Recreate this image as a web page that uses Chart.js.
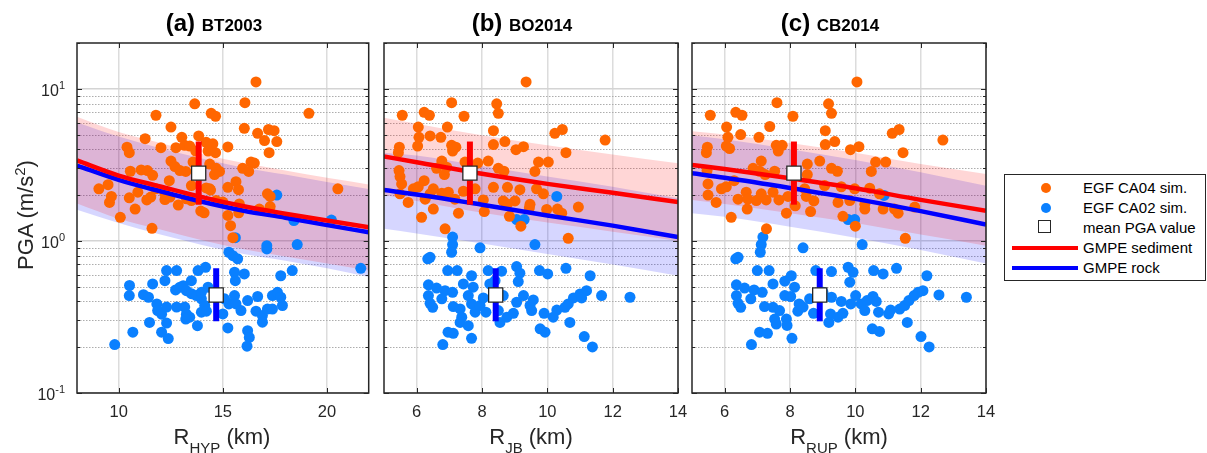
<!DOCTYPE html>
<html>
<head>
<meta charset="utf-8">
<title>PGA vs distance</title>
<script src="https://cdn.jsdelivr.net/npm/chart.js@4.4.1/dist/chart.umd.min.js"></script>
<style>
    body { margin: 0; background: #fff; font-family: "Liberation Sans", Arial, Helvetica, sans-serif; color: #262626; }
    #wrap { position: relative; width: 1207px; height: 453px; overflow: hidden; }
    canvas.panel { position: absolute; top: 0; }
    .title { position: absolute; top: 9px; width: 300px; text-align: center; font-weight: bold; font-size: 24px; line-height: 28px; color: #000; white-space: nowrap; }
    .title span { font-size: 17px; }
    .xlab { position: absolute; top: 425px; width: 300px; text-align: center; font-size: 22px; line-height: 24px; white-space: nowrap; }
    .xlab sub { font-size: 15px; vertical-align: -9px; line-height: 0; }
    .ylab { position: absolute; left: -74px; top: 202px; width: 200px; height: 26px; line-height: 26px; text-align: center; font-size: 22px; transform: rotate(-90deg); white-space: nowrap; }
    .ylab sup { font-size: 15px; vertical-align: 8px; line-height: 0; }
    #legend { position: absolute; left: 1004px; top: 174px; width: 202px; height: 107px; box-sizing: border-box; border: 1.5px solid #262626; background: #fff; }
    .row { position: absolute; left: 0; width: 200px; height: 20px; line-height: 20px; font-size: 15px; color: #000; }
    .row .txt { position: absolute; left: 78px; }
    .mk { position: absolute; }
</style>
</head>
<body>
<div id="wrap">
    <canvas id="chart-a" class="panel" width="380" height="453" style="left:0px"></canvas>
    <canvas id="chart-b" class="panel" width="320" height="453" style="left:370px"></canvas>
    <canvas id="chart-c" class="panel" width="320" height="453" style="left:678px"></canvas>

    <div class="title" style="left:64px">(a) <span>BT2003</span></div>
    <div class="title" style="left:372px">(b) <span>BO2014</span></div>
    <div class="title" style="left:680px">(c) <span>CB2014</span></div>

    <div class="xlab" style="left:72px">R<sub>HYP</sub> (km)</div>
    <div class="xlab" style="left:381px">R<sub>JB</sub> (km)</div>
    <div class="xlab" style="left:689px">R<sub>RUP</sub> (km)</div>

    <div class="ylab">PGA (m/s<sup>2</sup>)</div>

    <div id="legend">
        <div class="row" style="top:3px"><span class="mk" style="left:36px;top:5px;width:10px;height:10px;border-radius:50%;background:#ff6600"></span><span class="txt">EGF CA04 sim.</span></div>
        <div class="row" style="top:23px"><span class="mk" style="left:36px;top:5px;width:10px;height:10px;border-radius:50%;background:#0a80ff"></span><span class="txt">EGF CA02 sim.</span></div>
        <div class="row" style="top:43px"><span class="mk" style="left:33px;top:2px;width:13px;height:13px;box-sizing:border-box;border:1.3px solid #262626;background:#fff"></span><span class="txt">mean PGA value</span></div>
        <div class="row" style="top:63px"><span class="mk" style="left:7px;top:8px;width:66px;height:4px;background:#ff0000"></span><span class="txt">GMPE sediment</span></div>
        <div class="row" style="top:83px"><span class="mk" style="left:7px;top:8px;width:66px;height:4px;background:#0000ff"></span><span class="txt">GMPE rock</span></div>
    </div>
</div>

<script>
/* ------------------------------- Data -------------------------------*/

var xTicksA = [10, 15, 20];
var xTicksBC = [6, 8, 10, 12, 14];
var yDecades = [0.1, 1, 10];
var yMantissas = [1, 2, 3, 4, 5, 6, 7, 8, 9];
var yMin = 0.1, yMax = 20;

// (a) BT2003 - R_HYP
var ca04HypX = [16.59, 13.65, 16.06, 14.44, 14.65, 19.13, 11.79, 12.51, 16.03, 16.67, 17.19, 17.46, 17.0, 17.59, 11.27, 13.03, 13.84,
    10.4, 10.51, 12.03, 12.75, 13.17, 13.41, 13.7, 14.2, 14.52, 14.29, 14.65, 15.24, 17.22, 16.35, 16.51, 12.51, 12.7, 13.57, 14.37,
    14.68, 14.84, 14.6, 15.95, 16.24, 10.56, 11.08, 11.38, 11.63, 13.22, 12.43, 13.49, 14.2, 14.41, 15.24, 15.63, 15.75, 9.05, 9.49,
    9.65, 9.56, 10.51, 10.92, 11.35, 11.54, 12.22, 12.46, 12.86, 11.78, 10.79, 10.08, 11.6, 13.94, 14.1, 15.24, 15.37, 15.48, 15.76,
    15.79, 16.75, 17.14, 17.27, 17.27, 20.52, 15.0, 14.68, 12.22, 13.25, 13.49, 14.37, 12.94];
var ca04HypY = [11.1, 7.97, 8.1, 6.9, 6.6, 6.9, 6.7, 5.6, 5.5, 5.1, 5.4, 5.3, 4.57, 4.5, 4.7, 4.8, 4.9,
    4.13, 3.8, 4.1, 4.1, 4.25, 4.2, 3.9, 4.45, 4.35, 3.9, 3.8, 4.15, 3.8, 3.3, 3.25, 3.35, 3.08, 3.3, 3.2,
    3.0, 2.86, 2.73, 3.0, 2.86, 2.87, 2.93, 2.9, 2.7, 2.86, 2.49, 2.31, 2.23, 2.16, 2.25, 2.45, 2.17, 2.2, 2.34,
    1.96, 1.79, 1.92, 2.09, 1.86, 1.94, 1.87, 1.94, 1.72, 2.2, 1.62, 1.43, 1.21, 1.57, 1.53, 1.47, 1.26, 1.05, 1.53,
    1.75, 1.62, 2.04, 1.68, 1.96, 2.2, 1.8, 1.84, 2.04, 1.89, 1.84, 2.2, 2.9];
var ca02HypX = [17.59, 18.41, 20.21, 15.6, 17.11, 17.11, 18.57, 21.62, 15.29, 15.48, 15.71, 18.33, 17.78, 16.03, 15.56, 15.6,
    12.3, 12.78, 12.22, 13.81, 14.17, 13.49, 11.63, 10.52, 10.51, 11.19, 11.43, 11.83, 11.87, 12.06, 12.3, 12.73, 12.94, 13.1,
    13.25, 13.49, 13.73, 13.97, 14.13, 12.78, 13.17, 13.25, 13.41, 13.22, 13.97, 14.21, 13.78, 11.48, 12.3, 10.68, 12.06, 12.38,
    9.81, 15.0, 15.24, 15.29, 15.56, 15.63, 15.87, 16.19, 16.67, 16.59, 16.9, 16.9, 17.14, 17.38, 17.38, 17.62, 17.86, 17.78,
    16.19, 16.27, 16.16, 15.08, 14.29, 13.97];
var ca02HypY = [2.0, 1.36, 1.37, 1.05, 0.93, 0.886, 0.946, 0.66, 0.842, 0.80, 0.762, 0.638, 0.59, 0.606, 0.622, 0.548,
    0.638, 0.638, 0.548, 0.638, 0.67, 0.548, 0.521, 0.509, 0.437, 0.443, 0.426, 0.385, 0.348, 0.33, 0.367, 0.476, 0.496, 0.508,
    0.471, 0.45, 0.437, 0.416, 0.376, 0.367, 0.367, 0.33, 0.315, 0.306, 0.34, 0.345, 0.277, 0.291, 0.288, 0.251, 0.251, 0.228,
    0.208, 0.331, 0.268, 0.385, 0.437, 0.385, 0.348, 0.405, 0.431, 0.345, 0.323, 0.292, 0.356, 0.356, 0.437, 0.459, 0.376, 0.426,
    0.257, 0.232, 0.203, 0.416, 0.496, 0.459];
var gmpeHypR = [8, 10, 12, 14, 16, 18, 20, 22];
var sedHyp = [3.38, 2.69, 2.28, 1.94, 1.69, 1.51, 1.36, 1.23];
var sedHypUp = [6.55, 5.2, 4.4, 3.72, 3.25, 2.9, 2.6, 2.35];
var sedHypLo = [1.76, 1.4, 1.19, 1.01, 0.88, 0.79, 0.71, 0.64];
var rockHyp = [3.13, 2.52, 2.12, 1.81, 1.58, 1.42, 1.27, 1.14];
var rockHypUp = [6.0, 4.85, 4.07, 3.48, 3.03, 2.73, 2.44, 2.19];
var rockHypLo = [1.6, 1.31, 1.1, 0.94, 0.82, 0.74, 0.66, 0.58];

// (b) BO2014 - R_JB
var ca04JbX = [9.35, 7.07, 8.45, 8.5, 5.56, 6.23, 6.39, 7.45, 6.05, 6.94, 6.41, 6.74, 6.07, 6.03, 5.47, 5.44, 7.07, 7.2, 7.1,
    8.35, 8.35, 8.7, 9.04, 9.27, 10.23, 10.46, 11.77, 10.57, 9.73, 10.03, 9.62, 8.19, 6.77, 6.92, 6.61, 6.85, 7.48, 7.87, 8.5,
    8.67, 5.46, 5.49, 5.54, 5.49, 5.9, 6.05, 6.23, 6.51, 6.41, 6.77, 6.97, 7.17, 7.43, 7.79, 8.04, 8.35, 8.78, 9.16, 9.67, 9.88,
    8.65, 9.01, 8.78, 9.47, 9.45, 9.98, 10.31, 10.44, 10.95, 5.74, 6.15, 6.51, 7.28, 8.07, 8.84, 9.19, 6.87, 10.64, 6.26];
var ca04JbY = [11.1, 8.1, 7.97, 6.9, 6.7, 7.0, 6.7, 6.6, 5.6, 5.6, 4.9, 4.8, 4.8, 4.2, 4.13, 3.8, 4.25, 4.13, 3.9,
    5.3, 4.3, 4.5, 3.98, 4.16, 5.1, 5.4, 4.6, 3.8, 3.3, 3.3, 2.86, 3.35, 3.35, 3.05, 3.0, 2.73, 3.3, 3.25, 3.0,
    2.87, 2.9, 2.65, 2.37, 2.04, 2.2, 2.27, 2.49, 2.2, 2.04, 2.06, 2.09, 1.88, 2.12, 2.2, 1.86, 2.25, 2.25, 2.17, 2.2, 2.04,
    1.83, 1.83, 1.75, 1.74, 1.65, 1.61, 1.62, 1.52, 1.67, 1.79, 1.43, 1.62, 1.52, 1.56, 1.45, 1.25, 1.2, 1.04, 1.88];
var ca02JbX = [10.29, 9.06, 9.29, 7.1, 7.1, 7.07, 7.94, 9.62, 6.34, 6.41, 6.95, 7.24, 7.68, 7.43, 7.73, 8.19, 8.6, 9.06, 9.16,
    9.11, 9.76, 10.01, 10.57, 11.31, 6.36, 6.61, 6.87, 7.1, 6.36, 6.41, 6.49, 6.77, 7.12, 7.33, 7.38, 7.33, 7.58, 6.96, 7.12,
    7.68, 6.8, 7.58, 7.68, 7.79, 7.94, 8.04, 8.12, 8.5, 8.55, 8.65, 8.76, 8.96, 9.06, 9.27, 9.47, 9.57, 9.52, 9.9, 10.18, 10.29,
    10.54, 10.64, 10.8, 11.0, 11.2, 11.05, 11.66, 12.53, 10.69, 9.78, 9.93, 11.13, 11.38, 8.4, 8.24];
var ca02JbY = [1.96, 1.38, 1.38, 1.06, 0.946, 0.842, 0.9, 0.946, 0.762, 0.78, 0.638, 0.638, 0.59, 0.521, 0.496, 0.638, 0.632, 0.678, 0.613,
    0.54, 0.638, 0.606, 0.66, 0.59, 0.514, 0.49, 0.471, 0.459, 0.437, 0.389, 0.366, 0.416, 0.37, 0.357, 0.315, 0.291, 0.277, 0.251, 0.247,
    0.229, 0.208, 0.437, 0.385, 0.34, 0.376, 0.422, 0.34, 0.348, 0.291, 0.437, 0.315, 0.334, 0.395, 0.437, 0.376, 0.409, 0.348, 0.334, 0.315, 0.351,
    0.366, 0.385, 0.422, 0.447, 0.471, 0.422, 0.437, 0.426, 0.291, 0.264, 0.251, 0.235, 0.201, 0.548, 0.521];
var gmpeJbR = [5, 6, 8, 10, 12, 14];
var sedJb = [3.59, 3.29, 2.76, 2.37, 2.07, 1.8];
var sedJbUp = [6.45, 5.9, 4.95, 4.25, 3.7, 3.24];
var sedJbLo = [2.0, 1.83, 1.53, 1.32, 1.15, 1.0];
var rockJb = [2.16, 2.02, 1.73, 1.47, 1.26, 1.06];
var rockJbUp = [3.8, 3.64, 3.11, 2.65, 2.27, 1.91];
var rockJbLo = [1.2, 1.12, 0.96, 0.82, 0.7, 0.59];

// (c) CB2014 - R_RUP
var ca04RupX = [10.05, 7.6, 9.18, 9.27, 8.09, 5.56, 6.34, 6.53, 6.06, 7.38, 9.08, 6.49, 7.05, 6.1, 6.05, 6.15, 5.47, 5.44, 7.58,
    7.76, 7.64, 9.08, 9.37, 9.85, 10.11, 11.13, 11.34, 12.68, 11.46, 10.62, 10.93, 10.49, 8.91, 7.12, 6.87, 7.07, 7.24, 7.53, 8.53,
    8.53, 9.27, 9.45, 5.46, 5.49, 5.49, 5.9, 6.05, 6.29, 6.66, 6.41, 6.71, 6.97, 7.12, 7.27, 7.48, 7.66, 7.94, 8.45, 8.5, 8.73,
    9.06, 9.57, 9.98, 10.44, 10.74, 9.47, 9.83, 10.29, 10.29, 10.85, 11.2, 11.31, 11.82, 5.74, 6.2, 6.69, 7.89, 8.16, 8.63, 9.62,
    10.0, 7.28, 11.53];
var ca04RupY = [11.1, 8.1, 7.97, 6.9, 6.6, 6.7, 7.0, 6.7, 5.6, 5.65, 5.3, 5.0, 4.8, 4.8, 4.2, 4.05, 4.13, 3.8, 4.25,
    4.25, 3.9, 4.3, 4.5, 3.98, 4.16, 5.1, 5.4, 4.6, 3.8, 3.3, 3.3, 2.86, 3.35, 3.35, 3.0, 2.87, 2.73, 2.87, 3.2,
    2.73, 3.0, 2.87, 2.9, 2.37, 2.0, 2.2, 2.27, 2.49, 2.09, 1.88, 1.88, 1.84, 2.04, 1.86, 2.09, 1.86, 1.96, 2.2, 1.96, 1.83,
    2.31, 2.27, 2.2, 2.22, 2.04, 1.79, 1.84, 1.74, 1.62, 1.62, 1.62, 1.52, 1.67, 1.79, 1.43, 1.62, 1.52, 1.7, 1.56, 1.45,
    1.25, 1.2, 1.04];
var ca02RupX = [10.88, 9.78, 9.98, 7.17, 7.12, 7.09, 8.4, 10.21, 6.34, 6.41, 7.0, 7.36, 8.04, 7.84, 7.48, 8.14, 8.79, 9.27,
    9.78, 9.93, 9.83, 10.56, 10.85, 11.26, 12.19, 6.36, 6.61, 6.9, 7.15, 6.36, 6.41, 6.49, 6.8, 7.22, 7.48, 7.68, 7.53, 7.58,
    7.89, 7.91, 7.07, 7.31, 8.06, 6.82, 7.84, 8.02, 8.28, 8.24, 8.4, 8.6, 8.72, 9.01, 9.27, 9.24, 9.19, 9.47, 9.62, 9.57, 9.86,
    10.01, 10.18, 10.29, 10.36, 10.54, 10.64, 10.71, 11.02, 11.08, 11.36, 11.51, 11.64, 11.8, 11.92, 12.07, 12.56, 13.4, 11.59,
    10.52, 10.74, 12.01, 12.26];
var ca02RupY = [1.99, 1.38, 1.38, 1.06, 0.946, 0.842, 0.9, 0.946, 0.762, 0.78, 0.638, 0.638, 0.59, 0.543, 0.521, 0.496, 0.638, 0.629,
    0.671, 0.622, 0.535, 0.638, 0.606, 0.66, 0.59, 0.514, 0.49, 0.476, 0.459, 0.437, 0.389, 0.366, 0.416, 0.37, 0.366, 0.348, 0.306, 0.284,
    0.306, 0.278, 0.251, 0.247, 0.229, 0.208, 0.437, 0.431, 0.385, 0.345, 0.367, 0.416, 0.334, 0.459, 0.426, 0.331, 0.291, 0.315, 0.334, 0.4, 0.385,
    0.437, 0.385, 0.348, 0.405, 0.431, 0.4, 0.34, 0.331, 0.351, 0.356, 0.376, 0.405, 0.437, 0.459, 0.471, 0.441, 0.426, 0.291,
    0.264, 0.254, 0.235, 0.201];
var gmpeRupR = [5, 6, 8, 10, 12, 14];
var sedRup = [3.16, 2.97, 2.58, 2.22, 1.86, 1.58];
var sedRupUp = [5.25, 5.0, 4.4, 3.8, 3.2, 2.75];
var sedRupLo = [1.86, 1.75, 1.52, 1.31, 1.1, 0.93];
var rockRup = [2.78, 2.6, 2.23, 1.89, 1.57, 1.28];
var rockRupUp = [4.95, 4.65, 4.0, 3.4, 2.83, 2.3];
var rockRupLo = [1.52, 1.44, 1.24, 1.05, 0.87, 0.71];

// mean PGA values with their error bars: panels a, b, c
var meanCa04X = [13.84, 7.63, 8.12];
var meanCa02X = [14.68, 8.42, 8.91];
var meanCa04 = [2.79, 4.5, 1.73];     // mean, upper, lower
var meanCa02 = [0.441, 0.661, 0.296];

/* ------------------------------- Styles -------------------------------*/

var FONT = '"Liberation Sans", Arial, Helvetica, sans-serif';
var AXIS_COLOR = '#262626';
var ORANGE = '#ff6600';
var BLUE_PT = '#0a80ff';

function isDecade(v) {
    var l = Math.log10(v);
    return Math.abs(l - Math.round(l)) < 1e-6;
}

var yGridValues = [];
yDecades.forEach(function (d) {
    yMantissas.forEach(function (m) {
        var v = +(m * d).toPrecision(3);
        if (v >= yMin && v <= yMax) yGridValues.push(v);
    });
});

function toPoints(xs, ys) {
    return xs.map(function (x, i) { return { x: x, y: ys[i] }; });
}

/* ------------------------------- Axes plugin -------------------------------*/

var matlabAxes = {
    id: 'matlabAxes',
    beforeDatasetsDraw: function (chart) {                 // dotted minor grid
        var ctx = chart.ctx, a = chart.chartArea, y = chart.scales.y;
        ctx.save();
        ctx.strokeStyle = '#adadad';
        ctx.lineWidth = 1;
        ctx.setLineDash([1.5, 1.5]);
        y.ticks.forEach(function (t) {
            if (isDecade(t.value) || t.value >= yMax) return;
            var py = Math.round(y.getPixelForValue(t.value)) + 0.5;
            ctx.beginPath();
            ctx.moveTo(a.left, py);
            ctx.lineTo(a.right, py);
            ctx.stroke();
        });
        ctx.restore();
    },
    afterDraw: function (chart, args, opts) {             // box, inward ticks, y labels
        var ctx = chart.ctx, a = chart.chartArea;
        var x = chart.scales.x, y = chart.scales.y;
        ctx.save();
        ctx.strokeStyle = AXIS_COLOR;
        ctx.lineWidth = 1;
        ctx.beginPath();
        x.ticks.forEach(function (t) {
            var px = Math.round(x.getPixelForValue(t.value)) + 0.5;
            ctx.moveTo(px, a.bottom); ctx.lineTo(px, a.bottom - 5);
            ctx.moveTo(px, a.top); ctx.lineTo(px, a.top + 5);
        });
        y.ticks.forEach(function (t) {
            var len = isDecade(t.value) ? 5 : 3;
            var py = Math.round(y.getPixelForValue(t.value)) + 0.5;
            ctx.moveTo(a.left, py); ctx.lineTo(a.left + len, py);
            ctx.moveTo(a.right, py); ctx.lineTo(a.right - len, py);
        });
        ctx.stroke();
        ctx.lineWidth = 1.5;
        ctx.strokeRect(a.left, a.top, a.right - a.left, a.bottom - a.top);

        if (opts.yLabels) {
            ctx.fillStyle = AXIS_COLOR;
            ctx.textBaseline = 'middle';
            ctx.textAlign = 'right';
            var right = a.left - 12;
            yDecades.forEach(function (d) {
                var py = y.getPixelForValue(d);
                var exp = String(Math.round(Math.log10(d)));
                ctx.font = '11px ' + FONT;
                var ew = ctx.measureText(exp).width;
                ctx.fillText(exp, right, py - 3);
                ctx.font = '16px ' + FONT;
                ctx.fillText('10', right - ew, py + 3);
            });
        }
        ctx.restore();
    }
};

/* ------------------------------- Charts -------------------------------*/

function lineSet(points, color, width, order) {
    return {
        data: points, borderColor: color, borderWidth: width, pointRadius: 0,
        cubicInterpolationMode: 'monotone', fill: false, order: order
    };
}

function bandSet(points, color, fill, order) {
    return {
        data: points, borderWidth: 0, borderColor: 'rgba(0,0,0,0)', backgroundColor: color,
        pointRadius: 0, cubicInterpolationMode: 'monotone', fill: fill, order: order
    };
}

function pointSet(points, color, order) {
    return {
        data: points, showLine: false, pointRadius: 5.5, pointBorderWidth: 0,
        pointBackgroundColor: color, pointBorderColor: color, order: order
    };
}

function createPanel(id, p) {
    var i = p.index;
    var datasets = [
        {   // mean squares
            data: [{ x: meanCa04X[i], y: meanCa04[0] }, { x: meanCa02X[i], y: meanCa02[0] }],
            showLine: false, pointStyle: 'rect', pointRadius: 10, pointBorderWidth: 1.3,
            pointBackgroundColor: '#ffffff', pointBorderColor: AXIS_COLOR, order: 0
        },
        Object.assign(lineSet([{ x: meanCa04X[i], y: meanCa04[2] }, { x: meanCa04X[i], y: meanCa04[1] }], '#ff0000', 6, 1), { cubicInterpolationMode: 'default', borderCapStyle: 'butt' }),
        Object.assign(lineSet([{ x: meanCa02X[i], y: meanCa02[2] }, { x: meanCa02X[i], y: meanCa02[1] }], '#0000ff', 6, 1), { cubicInterpolationMode: 'default', borderCapStyle: 'butt' }),
        lineSet(toPoints(p.r, p.sed), '#ff0000', 4.5, 2),
        lineSet(toPoints(p.r, p.rock), '#0000ff', 4.5, 2),
        pointSet(toPoints(p.ca04x, p.ca04y), ORANGE, 3),
        pointSet(toPoints(p.ca02x, p.ca02y), BLUE_PT, 4),
        bandSet(toPoints(p.r, p.sedUp), 'rgba(255,0,0,0.16)', '+1', 5),
        bandSet(toPoints(p.r, p.sedLo), 'rgba(0,0,0,0)', false, 5),
        bandSet(toPoints(p.r, p.rockUp), 'rgba(0,0,255,0.16)', '+1', 6),
        bandSet(toPoints(p.r, p.rockLo), 'rgba(0,0,0,0)', false, 6)
    ];

    var config = {
        type: 'line',
        data: { datasets: datasets },
        options: {
            responsive: false,
            animation: false,
            events: [],
            layout: { padding: { top: 43, right: p.padRight, left: 0, bottom: 0 } },
            plugins: {
                legend: { display: false },
                tooltip: { enabled: false },
                matlabAxes: { yLabels: p.yLabels }
            },
            scales: {
                x: {
                    type: 'linear', min: p.xMin, max: p.xMax,
                    afterBuildTicks: function (s) { s.ticks = p.xTicks.map(function (v) { return { value: v }; }); },
                    afterFit: function (s) { s.height = 60; s.paddingLeft = 0; s.paddingRight = 0; },
                    grid: { color: '#dcdcdc', lineWidth: 1.5, drawTicks: false },
                    border: { display: false },
                    ticks: { font: { size: 16.5, family: FONT }, color: AXIS_COLOR, padding: 10, maxRotation: 0, autoSkip: false }
                },
                y: {
                    type: 'logarithmic', min: yMin, max: yMax,
                    afterBuildTicks: function (s) { s.ticks = yGridValues.map(function (v) { return { value: v }; }); },
                    afterFit: function (s) { s.width = p.yWidth; s.paddingTop = 0; s.paddingBottom = 0; },
                    grid: {
                        color: function (c) { return c.tick && isDecade(c.tick.value) ? '#d4d4d4' : 'rgba(0,0,0,0)'; },
                        lineWidth: 1.5, drawTicks: false
                    },
                    border: { display: false },
                    ticks: { display: false }
                }
            }
        },
        plugins: [matlabAxes]
    };
    new Chart(document.getElementById(id).getContext('2d'), config);
}

createPanel('chart-a', {
    index: 0, xMin: 8, xMax: 22, xTicks: xTicksA, yWidth: 77, padRight: 10, yLabels: true,
    ca04x: ca04HypX, ca04y: ca04HypY, ca02x: ca02HypX, ca02y: ca02HypY,
    r: gmpeHypR, sed: sedHyp, sedUp: sedHypUp, sedLo: sedHypLo, rock: rockHyp, rockUp: rockHypUp, rockLo: rockHypLo
});
createPanel('chart-b', {
    index: 1, xMin: 5, xMax: 14, xTicks: xTicksBC, yWidth: 14, padRight: 12, yLabels: false,
    ca04x: ca04JbX, ca04y: ca04JbY, ca02x: ca02JbX, ca02y: ca02JbY,
    r: gmpeJbR, sed: sedJb, sedUp: sedJbUp, sedLo: sedJbLo, rock: rockJb, rockUp: rockJbUp, rockLo: rockJbLo
});
createPanel('chart-c', {
    index: 2, xMin: 5, xMax: 14, xTicks: xTicksBC, yWidth: 14, padRight: 12, yLabels: false,
    ca04x: ca04RupX, ca04y: ca04RupY, ca02x: ca02RupX, ca02y: ca02RupY,
    r: gmpeRupR, sed: sedRup, sedUp: sedRupUp, sedLo: sedRupLo, rock: rockRup, rockUp: rockRupUp, rockLo: rockRupLo
});
</script>
</body>
</html>
